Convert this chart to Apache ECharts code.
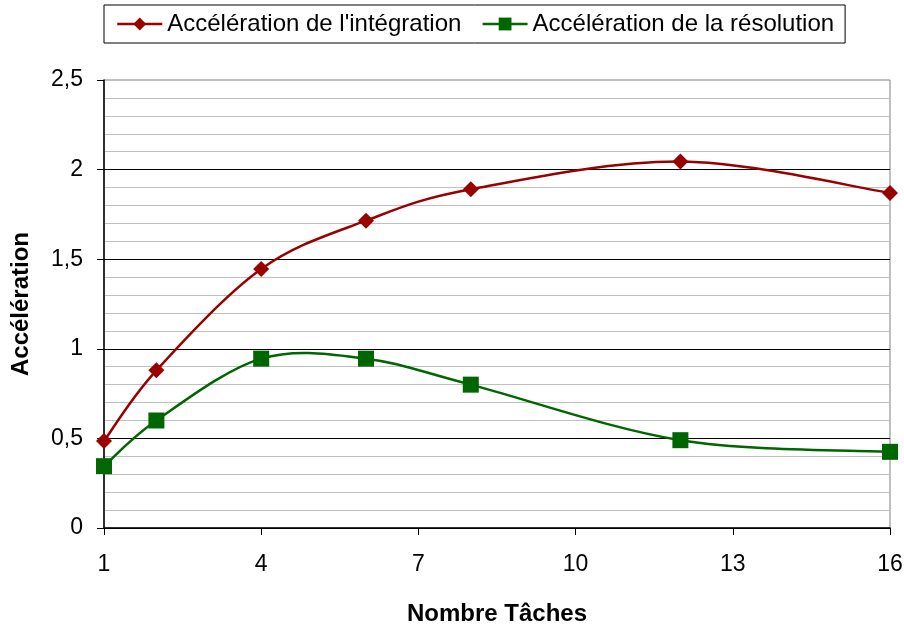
<!DOCTYPE html>
<html>
<head>
<meta charset="utf-8">
<script src="https://cdn.jsdelivr.net/npm/echarts@6/dist/echarts.min.js"></script>
<style>
html, body { margin: 0; padding: 0; background: #fff; }
#container { width: 904px; height: 627px; }
</style>
</head>
<body>
<div id="container"></div>
<script>
var taches = [1, 2, 4, 6, 8, 12, 16];
var accIntegration = [0.485, 0.88, 1.445, 1.715, 1.89, 2.045, 1.87];
var accResolution = [0.345, 0.6, 0.945, 0.945, 0.8, 0.49, 0.425];
var seriesNames = ["Accélération de l'intégration", "Accélération de la résolution"];
var colors = ['#990000', '#006600'];

function pairs(xs, ys) {
    return xs.map(function (x, i) { return [x, ys[i]]; });
}

// Excel-like smoothed curve (Catmull-Rom -> bezier), drawn in pixel space via api.coord
function smoothRenderer(xs, ys, color) {
    return function (params, api) {
        var i = params.dataIndex;
        if (i >= xs.length - 1) return null;
        var p0 = api.coord([xs[Math.max(i - 1, 0)], ys[Math.max(i - 1, 0)]]);
        var p1 = api.coord([xs[i], ys[i]]);
        var p2 = api.coord([xs[i + 1], ys[i + 1]]);
        var j = Math.min(i + 2, xs.length - 1);
        var p3 = api.coord([xs[j], ys[j]]);
        return {
            type: 'bezierCurve',
            shape: {
                x1: p1[0], y1: p1[1],
                x2: p2[0], y2: p2[1],
                cpx1: p1[0] + (p2[0] - p0[0]) / 6,
                cpy1: p1[1] + (p2[1] - p0[1]) / 6,
                cpx2: p2[0] - (p3[0] - p1[0]) / 6,
                cpy2: p2[1] - (p3[1] - p1[1]) / 6
            },
            style: { stroke: color, lineWidth: 2.5, fill: null },
            silent: true
        };
    };
}

var dom = document.getElementById("container");
var myChart = echarts.init(dom);
var font = 'Liberation Sans, Arial, sans-serif';
option = null;
option = {
    backgroundColor: '#fff',
    animation: false,
    textStyle: { fontFamily: font },
    legend: {
        top: 5,
        left: 104,
        padding: [7, 11, 7, 12],
        borderColor: '#000',
        borderWidth: 1,
        itemWidth: 45,
        itemHeight: 16,
        itemGap: 20,
        textStyle: { fontSize: 24, color: '#000', fontFamily: font },
        data: [
            { name: seriesNames[0], lineStyle: { color: colors[0], width: 2.5, opacity: 1 } },
            { name: seriesNames[1], lineStyle: { color: colors[1], width: 2.5, opacity: 1 } }
        ]
    },
    grid: {
        left: 104,
        right: 14,
        top: 80,
        bottom: 99,
        containLabel: false,
        outerBoundsMode: 'none',
        show: true,
        borderColor: '#808080',
        borderWidth: 1
    },
    xAxis: {
        type: 'value',
        min: 1,
        max: 16,
        interval: 3,
        name: 'Nombre Tâches',
        nameLocation: 'middle',
        nameGap: 74,
        nameTextStyle: { fontSize: 24, fontWeight: 'bold', color: '#000', fontFamily: font },
        axisLine: { lineStyle: { color: '#000', width: 1.5 } },
        axisTick: { inside: false, length: 7, lineStyle: { color: '#000' } },
        axisLabel: { fontSize: 23, color: '#000', margin: 25 },
        splitLine: { show: false }
    },
    yAxis: {
        type: 'value',
        min: 0,
        max: 2.5,
        interval: 0.5,
        name: 'Accélération',
        nameLocation: 'middle',
        nameGap: 71,
        nameTextStyle: { fontSize: 24, fontWeight: 'bold', color: '#000', fontFamily: font },
        axisLine: { show: true, lineStyle: { color: '#000', width: 1.5 } },
        axisTick: { show: true, inside: false, length: 7, lineStyle: { color: '#000' } },
        axisLabel: {
            fontSize: 23, color: '#000', margin: 21,
            formatter: function (v) { return String(v).replace('.', ','); }
        },
        splitLine: { show: true, showMaxLine: false, lineStyle: { color: '#000', width: 1 } },
        minorTick: { show: false, splitNumber: 5 },
        minorSplitLine: { show: true, lineStyle: { color: '#c0c0c0', width: 1 } }
    },
    series: [
        {
            name: seriesNames[0],
            type: 'line',
            symbol: 'diamond',
            symbolSize: 16,
            color: colors[0],
            lineStyle: { width: 2.5, color: colors[0], opacity: 0 },
            itemStyle: { color: colors[0] },
            z: 3,
            data: pairs(taches, accIntegration)
        },
        {
            name: seriesNames[1],
            type: 'line',
            symbol: 'rect',
            symbolSize: 16,
            color: colors[1],
            lineStyle: { width: 2.5, color: colors[1], opacity: 0 },
            itemStyle: { color: colors[1] },
            z: 3,
            data: pairs(taches, accResolution)
        },
        {
            name: seriesNames[0],
            type: 'custom',
            renderItem: smoothRenderer(taches, accIntegration, colors[0]),
            z: 2,
            data: pairs(taches, accIntegration)
        },
        {
            name: seriesNames[1],
            type: 'custom',
            renderItem: smoothRenderer(taches, accResolution, colors[1]),
            z: 2,
            data: pairs(taches, accResolution)
        }
    ]
};
if (option && typeof option === "object") {
    myChart.setOption(option, true);
}
</script>
</body>
</html>
